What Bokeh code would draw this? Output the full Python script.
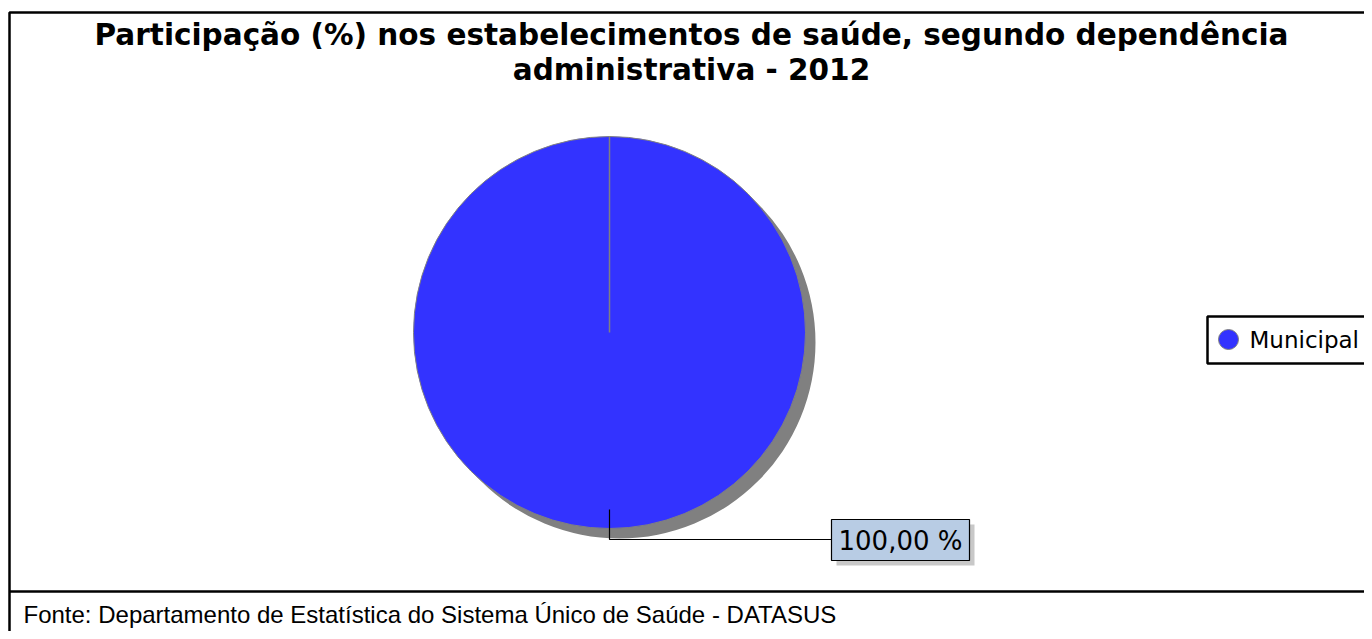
import math
from bokeh.plotting import figure
from bokeh.models import Range1d, ColumnDataSource
from bokeh.core.properties import value
from bokeh.embed import file_html
from bokeh.resources import INLINE

# ---- data ----
categories = ["Municipal"]
shares = [100.0]
colors = ["#3333FF"]
title_lines = ["Participação (%) nos estabelecimentos de saúde, segundo dependência",
               "administrativa - 2012"]
source_note = "Fonte: Departamento de Estatística do Sistema Único de Saúde - DATASUS"

W, H = 1364, 631
p = figure(width=W, height=H, output_backend="svg", toolbar_location=None,
           x_range=Range1d(0, W), y_range=Range1d(0, H), min_border=0)
p.axis.visible = False
p.grid.visible = False
p.outline_line_color = None
p.background_fill_color = "white"
p.border_fill_color = "white"

def Y(py):  # reference pixel -> data y
    return H - py
def X(px):
    return px

# frame
p.quad(left=[X(9)], right=[X(1400)], top=[Y(12)], bottom=[Y(700)],
       fill_color=None, line_color="black", line_width=2.5)
p.segment(x0=[X(9)], x1=[X(1400)], y0=[Y(591)], y1=[Y(591)], line_color="black", line_width=2.5)

# title
p.text(x=[X(691)] * 2, y=[Y(34), Y(69)], text=title_lines,
       text_font=value("DejaVu Sans"), text_font_style="bold", text_font_size="29.5px",
       text_align="center", text_baseline="middle", text_color="black")

# footer
p.text(x=[X(23)], y=[Y(614)], text=[source_note], text_font=value("Liberation Sans"),
       text_font_size="24px", text_align="left", text_baseline="middle", text_color="black")

# pie
cx, cy, r = X(609), Y(332), 196
total = sum(shares)
starts, ends = [], []
acc = 0.0
for s in shares:
    starts.append(math.pi / 2 - acc / total * 2 * math.pi)
    acc += s
    ends.append(math.pi / 2 - acc / total * 2 * math.pi)
src = ColumnDataSource(dict(start=ends, end=starts, color=colors, cat=categories))

p.circle(x=[cx + 10], y=[cy - 10], radius=r, fill_color="#808080", line_color=None)
if len(shares) == 1:
    p.circle(x=[cx], y=[cy], radius=r, fill_color=colors[0], line_color="#808080", line_width=1)
    p.segment(x0=[cx], y0=[cy], x1=[cx + r * math.cos(starts[0])], y1=[cy + r * math.sin(starts[0])],
              line_color="#808080", line_width=1.5)
else:
    p.wedge(x=cx, y=cy, radius=r, start_angle="start", end_angle="end", fill_color="color",
            line_color="#808080", source=src)

# label leader + box
mids = [(a + b) / 2 for a, b in zip(starts, ends)]
labels = [f"{s:.2f}".replace(".", ",") + " %" for s in shares]
for m, lab in zip(mids, labels):
    x_in = cx + (r - 19) * math.cos(m)
    y_in = cy + (r - 19) * math.sin(m)
    x_out = cx + (r + 11) * math.cos(m)
    y_out = cy + (r + 11) * math.sin(m)
    bx0, bx1 = X(831), X(969)
    p.line(x=[x_in, x_out, bx0], y=[y_in, y_out, y_out], line_color="black", line_width=1.2)
    p.quad(left=[bx0 + 5], right=[bx1 + 5], top=[Y(519) - 5], bottom=[Y(560) - 5],
           fill_color="#C8C8C8", line_color=None)
    p.quad(left=[bx0], right=[bx1], top=[Y(519)], bottom=[Y(560)],
           fill_color="#B8CCE4", line_color="black", line_width=1.2)
    p.text(x=[(bx0 + bx1) / 2], y=[Y(540)], text=[lab], text_font=value("DejaVu Sans"),
           text_font_size="26px", text_align="center", text_baseline="middle", text_color="black")

# legend
p.quad(left=[X(1207)], right=[X(1400)], top=[Y(316)], bottom=[Y(363)],
       fill_color="white", line_color="black", line_width=2.5)
for i, (c, cat) in enumerate(zip(colors, categories)):
    p.circle(x=[X(1228)], y=[Y(339) - i * 30], radius=10, fill_color=c, line_color="#808080")
    p.text(x=[X(1249)], y=[Y(339) - i * 30], text=[cat], text_font=value("DejaVu Sans"),
           text_font_size="23px", text_align="left", text_baseline="middle", text_color="black")

open("out.html", "w").write(file_html(p, INLINE))
